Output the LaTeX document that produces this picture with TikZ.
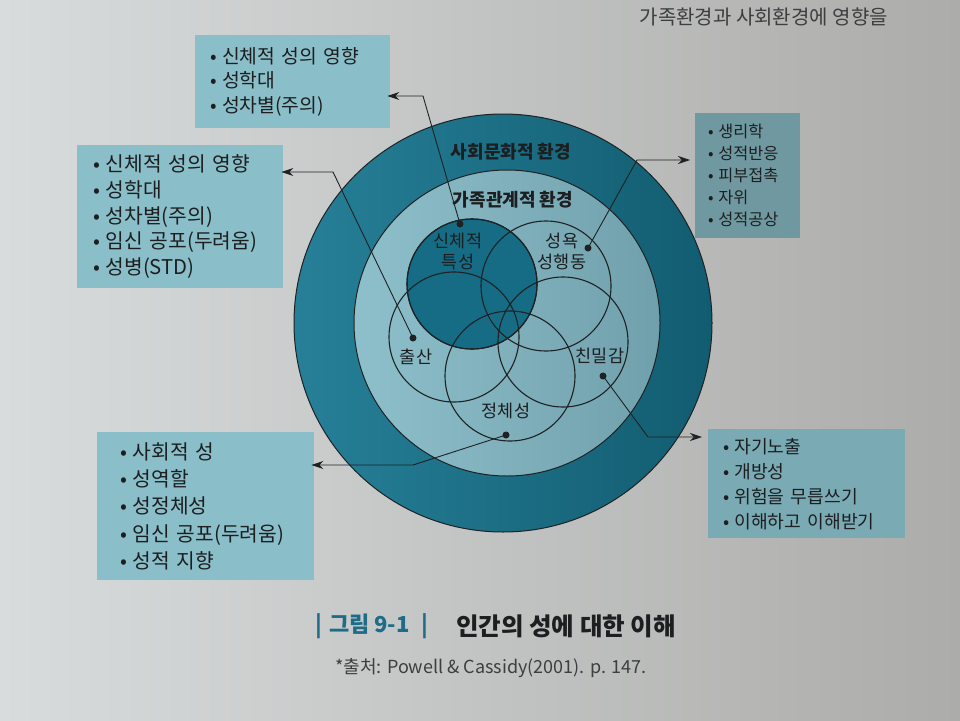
\documentclass[tikz,border=0pt]{standalone}
\usepackage{fontspec}
\setmainfont{Noto Sans CJK KR}
\usetikzlibrary{arrows.meta}
\definecolor{bgl}{RGB}{216,220,220}
\definecolor{bgr}{RGB}{172,172,170}
\definecolor{ringl}{RGB}{38,128,152}
\definecolor{ringr}{RGB}{18,92,112}
\definecolor{midl}{RGB}{142,192,204}
\definecolor{midr}{RGB}{112,160,172}
\definecolor{bodyc}{RGB}{22,108,132}
\definecolor{boxc}{RGB}{138,190,200}
\definecolor{boxd}{RGB}{112,152,160}
\definecolor{boxe}{RGB}{122,170,180}
\definecolor{linec}{RGB}{30,34,36}
\definecolor{textc}{RGB}{28,30,32}
\definecolor{capc}{RGB}{30,108,136}
\definecolor{srcc}{RGB}{60,62,64}
\newcommand\bu{\makebox[0.62em][l]{•}}
\begin{document}
\begin{tikzpicture}[x=1pt,y=-1pt,
  venn/.style={circle,draw=linec,line width=1.1pt,inner sep=0pt,minimum size=130pt},
  clabel/.style={align=center,text=textc,inner sep=0pt,font=\fontsize{17.5}{21}\selectfont},
  ringlabel/.style={text=textc,inner sep=0pt,font=\fontsize{18}{20}\selectfont\bfseries},
  dotnode/.style={circle,fill=linec,inner sep=0pt,minimum size=7pt},
  listbox/.style={rectangle,fill=boxc,anchor=north west,align=left,text=textc,inner ysep=0pt},
  conn/.style={draw=linec,line width=0.9pt,-{Stealth[length=12pt,width=8pt]}}]
\useasboundingbox (0,0) rectangle (960,720);
\shade[left color=bgl,right color=bgr] (0,0) rectangle (960,720);
\node[anchor=base east,text=srcc,inner sep=0pt,font=\fontsize{20}{22}\selectfont] (toptext) at (888,24) {가족환경과 사회환경에 영향을};
% rings
\node[circle,inner sep=0pt,minimum size=418pt,draw=linec,line width=1pt,left color=ringl,right color=ringr] (outer) at (503,323) {};
\node[circle,inner sep=0pt,minimum size=306pt,draw=linec,line width=1pt,left color=midl,right color=midr] (middle) at (507,323) {};
\node[ringlabel] (lsoc) at (511,152) {사회문화적 환경};
\node[ringlabel] (lfam) at (513,200) {가족관계적 환경};
% venn
\node[venn,fill=bodyc] (A) at (472,284) {};
\node[venn] (B) at (546,286) {};
\node[venn] (C) at (454,337) {};
\node[venn] (D) at (563,342) {};
\node[venn] (E) at (510,376) {};
\node[venn,fill=none] (A2) at (472,284) {};
\node[clabel] (lA) at (458,251) {신체적\\특성};
\node[clabel] (lB) at (562,251) {성욕\\성행동};
\node[clabel] (lC) at (416,357) {출산};
\node[clabel] (lD) at (600,356) {친밀감};
\node[clabel] (lE) at (506,411) {정체성};
% dots
\node[dotnode] (dA) at (460,224) {};
\node[dotnode] (dB) at (588,248) {};
\node[dotnode] (dC) at (413,338) {};
\node[dotnode] (dD) at (603,376) {};
\node[dotnode] (dE) at (506,435) {};
% boxes
\node[listbox,minimum width=195pt,minimum height=93pt,inner xsep=15pt,text width=165pt,font=\fontsize{19.3}{24.5}\selectfont] (box1) at (195,35)
  {\bu 신체적 성의 영향\\\bu 성학대\\\bu 성차별(주의)};
\node[listbox,minimum width=206pt,minimum height=143pt,inner xsep=16pt,text width=174pt,font=\fontsize{20.3}{25.7}\selectfont] (box2) at (77,145)
  {\bu 신체적 성의 영향\\\bu 성학대\\\bu 성차별(주의)\\\bu 임신 공포(두려움)\\\bu 성병(STD)};
\node[listbox,fill=boxd,minimum width=105pt,minimum height=125pt,inner xsep=13pt,text width=79pt,font=\fontsize{16.3}{22}\selectfont] (box3) at (695,113)
  {\bu 생리학\\\bu 성적반응\\\bu 피부접촉\\\bu 자위\\\bu 성적공상};
\node[listbox,fill=boxe,minimum width=197pt,minimum height=109pt,inner xsep=15pt,text width=167pt,font=\fontsize{18.2}{25}\selectfont] (box4) at (708,429)
  {\bu 자기노출\\\bu 개방성\\\bu 위험을 무릅쓰기\\\bu 이해하고 이해받기};
\node[listbox,minimum width=217pt,minimum height=148pt,inner xsep=23pt,text width=171pt,font=\fontsize{20.3}{27.3}\selectfont] (box5) at (97,432)
  {\bu 사회적 성\\\bu 성역할\\\bu 성정체성\\\bu 임신 공포(두려움)\\\bu 성적 지향};
% connectors
\coordinate (bA) at (423,96);
\coordinate (bB) at (637,160);
\coordinate (bC) at (333,172);
\coordinate (bD) at (648,437);
\coordinate (bE) at (413,465);
\draw[conn,shorten >=-3pt] (dA.center) -- (bA) -- (box1.east |- bA);
\draw[conn,shorten >=-2pt] (dC.center) -- (bC) -- (box2.east |- bC);
\draw[conn,shorten >=5pt] (dB.center) -- (bB) -- (box3.west |- bB);
\draw[conn,shorten >=6pt] (dD.center) -- (bD) -- (box4.west |- bD);
\draw[conn,shorten >=-3pt] (dE.center) -- (bE) -- (box5.east |- bE);
% caption
\node[anchor=west,inner sep=0pt,text=capc,font=\fontsize{22}{24}\selectfont\bfseries] (fig) at (315,626) {|\hspace{7pt}그림 9-1\hspace{12pt}|};
\node[anchor=west,inner sep=0pt,text=textc,font=\fontsize{24.5}{26}\selectfont\bfseries] (title) at (456,626) {인간의 성에 대한 이해};
\node[anchor=west,inner sep=0pt,text=srcc,font=\fontsize{18}{20}\selectfont] (src) at (335,668) {*출처: Powell \& Cassidy(2001). p. 147.};
\end{tikzpicture}
\end{document}
